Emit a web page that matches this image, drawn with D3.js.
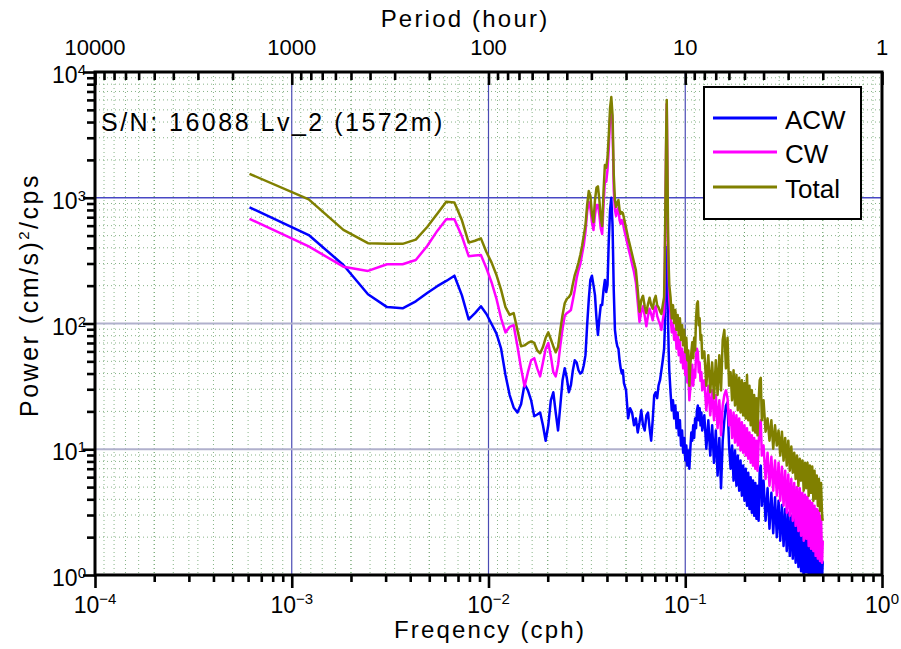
<!DOCTYPE html>
<html><head><meta charset="utf-8">
<script src="https://cdn.jsdelivr.net/npm/d3@7"></script>
<style>body{margin:0;background:#fff}text{font-family:"Liberation Sans",Arial,sans-serif;fill:#000}</style>
</head><body>
<svg id="c" width="901" height="649"></svg>
<script>
// ---------------- data ----------------
const freq = [
0.00061,0.00122,0.00183,0.00244,0.00305,0.00366,0.00427,0.00488,0.00549,0.0061,
0.00671,0.00732,0.00793,0.00854,0.00915,0.00976,0.01037,0.01098,0.01159,0.0122,
0.01281,0.01342,0.01403,0.01464,0.01525,0.01586,0.01647,0.01708,0.01769,0.0183,
0.01891,0.01952,0.02013,0.02074,0.02135,0.02196,0.02257,0.02318,0.02379,0.0244,
0.02501,0.02562,0.02623,0.02684,0.02745,0.02806,0.02867,0.02928,0.02989,0.0305,
0.03111,0.03172,0.03233,0.03294,0.03355,0.03416,0.03477,0.03538,0.03599,0.0366,
0.03721,0.03782,0.03843,0.03904,0.03965,0.04026,0.04087,0.04148,0.04209,0.0427,
0.04331,0.04392,0.04453,0.04514,0.04575,0.04636,0.04697,0.04758,0.04819,0.0488,
0.05002,0.05124,0.05246,0.05368,0.0549,0.05612,0.05734,0.05856,0.05978,0.061,
0.06222,0.06344,0.06466,0.06588,0.0671,0.06832,0.06954,0.07076,0.07198,0.0732,
0.07442,0.07564,0.07686,0.07808,
0.07869,0.0793,0.07991,0.08052,0.08113,0.08174,0.08235,0.08296,
0.08418,0.0854,0.08662,0.08784,0.08906,0.09028,0.0915,0.09272,0.09394,0.09516,
0.09638,0.0976,0.09882,0.10004,0.10126,0.10248,0.1037,0.10492,0.10614,0.10736,
0.10858,0.1098,0.11102,0.11224,0.11346,0.11468,0.1159,0.11712,0.11834,0.11956,
0.12078,0.122,
0.125,0.128,0.131,0.134,0.137,0.14,0.143,0.146,0.149,0.152,
0.155,0.158,0.161,0.164,0.167,0.17,0.173,0.176,0.179,0.182,
0.185,0.188,0.191,0.194,0.197,0.2,0.203,0.206,0.209,0.212,
0.215,0.218,0.221,0.224,0.227,0.23,0.233,0.236,0.239,0.242,0.245,
0.25,0.256,0.262,0.268,0.274,0.28,0.286,0.292,0.298,0.304,
0.31,0.316,0.322,0.328,0.334,0.34,0.346,0.352,0.358,0.364,
0.37,0.376,0.382,0.388,0.394,0.4,0.406,0.412,0.418,0.424,
0.43,0.436,0.442,0.448,0.454,0.46,0.466,0.472,0.478,0.484,
0.49,0.496,0.5
];
const acw = [
840,505,292,171,135,132,150,175,198,218,
240,168,108,121,137,119,99,83,63,39,
27,21.5,19.6,22.8,33,29.4,24.5,18.3,18.9,19.6,
15.5,11.7,15.5,24.5,28.4,19.6,14.1,22.3,35.4,44,
36.8,28.4,32.3,42.5,51,49,42.5,40,41,46.6,
56,97,154,222,240,202,168,110,81,110,
140,140,185,222,178,202,461,800,1000,607,
185,89,74,66,63,51,44,40,42.5,33.5,
29.4,17.6,21.2,19.6,15.5,17.6,13.6,16.4,20.4,15.5,
14.1,18.6,19.6,14.7,11.7,17,26.9,28.4,25.5,32.3,
35.4,42.5,51,63,
89,185,305,405,243,106,61,42.5,
28.4,20.4,24.5,17.6,22.3,14.7,19.6,12.9,17,10.7,
14.1,9.4,12.3,8.13,10.7,7.41,9.77,7.0,10.1,13.6,
11.7,15.5,12.3,17.6,14.7,20.4,22.3,17,21.2,15.5,
19.6,14.1,
18.6,10.1,17,8.9,15.5,7.8,14.1,6.17,12.3,4.9,
11.7,17,22.3,23.6,10.7,7.0,10.7,5.63,9.77,5.13,
8.9,4.68,8.13,4.27,7.41,3.9,7.0,3.55,6.5,3.35,
6.0,3.13,5.63,2.96,5.4,2.8,5.13,2.7,6.76,7.41,3.55,
5.63,2.7,4.9,2.33,4.5,2.15,4.15,2.0,3.9,1.87,
3.6,1.7,3.35,1.55,3.13,1.42,2.96,1.35,2.8,1.25,
2.7,1.16,2.6,1.07,2.46,0.83,2.33,1.05,2.24,0.95,
2.15,1.0,2.05,0.83,2.0,0.91,1.94,0.76,1.87,0.83,
1.8,0.95,1.29
];
const cw = [
680,410,283,262,296,296,320,413,545,675,
675,495,343,347,350,275,212,157,110,85,
94,97,66,44,31.5,41,51,53,44,38,
49,63,70,55,41,38,47,67,91,115,
121,124,128,154,185,230,266,297,355,421,
535,770,925,830,640,554,730,875,875,730,
570,515,875,1340,1340,1670,2490,4300,5360,3800,
1160,800,715,800,830,665,620,665,640,570,
480,405,350,297,257,212,148,103,124,137,
115,95,115,131,119,106,128,137,115,106,
99,89,106,124,
243,800,2400,5570,1670,421,230,154,
117,85,101,74,91,63,81,56,74,49,
63,44,59,39,51,34,41,24.5,30.5,39,
47,32,42.5,37,56,63,59,41,49,35,
41,29.4,
35.4,20.4,32,18.6,29.4,17,27,14.7,24.5,12.9,
22.3,27,29.4,25.5,15.5,20.4,12.3,19.6,11.3,18.6,
10.7,17.6,9.77,16.4,9.4,15.5,8.9,14.7,8.4,13.6,
7.8,12.9,7.41,12.3,7.0,11.7,6.76,11.3,15.5,17,8.9,
10.7,5.8,9.4,5.13,8.7,4.68,8.13,4.27,7.8,3.9,
7.25,3.55,6.76,3.13,6.3,2.96,5.8,2.7,5.4,2.46,
5.0,2.24,4.9,2.05,4.5,1.87,4.35,1.94,4.2,1.7,
3.9,1.62,3.75,1.55,3.55,1.42,3.35,1.35,3.24,1.29,
2.96,1.25,1.87
];
const total = [
1550,970,555,435,430,430,465,585,745,930,
915,665,440,455,475,370,305,243,185,135,
117,121,89,66,67,70,72,70,61,58,
65,77,85,75,66,59,65,89,117,145,
157,162,172,206,243,271,305,350,413,500,
607,875,1130,1040,745,640,960,1200,1230,960,
690,595,1120,1820,1730,2080,3150,5180,6320,4550,
1520,960,845,905,960,800,745,770,755,690,
575,480,413,355,305,266,185,124,154,166,
137,121,143,160,140,131,154,166,140,134,
125,119,140,162,
320,960,2880,5990,2000,554,292,202,
162,110,140,101,128,89,117,81,110,74,
97,67,89,59,77,51,61,32,47,59,
71,53,77,61,110,143,150,97,110,74,
81,53,
60,32,56,28.4,49,25.5,51,27,56,29.4,
74,89,44,77,32,41,24.5,42.5,22.3,39,
20.4,37,19.6,35.4,18.6,33.6,17.6,39,17,32,
15.5,29.4,14.1,27,13.6,25.5,12.9,24.5,35.4,37,17,
24.5,13.8,17.6,11.7,17,10.1,15.5,10.7,14.1,8.9,
13.8,8.13,12.3,7.41,11.7,6.76,10.5,6.5,9.4,5.8,
8.9,5.13,8.4,5.63,8.13,4.68,7.8,4.9,7.8,4.27,
7.41,4.5,7.3,3.9,6.76,4.05,6.17,3.55,5.8,3.24,
5.4,2.96,2.7
];
const seriesNames = ["ACW","CW","Total"];
const seriesColors = ["#0000ff","#ff00ff","#808000"];
const freqMajorTicks = [1e-4,1e-3,1e-2,1e-1,1];
const freqExponents = ["−4","−3","−2","−1","0"];
const powerMajorTicks = [1,10,100,1000,10000];
const powerExponents = ["0","1","2","3","4"];
const periodMajorTicks = [10000,1000,100,10,1];
const periodLabels = ["10000","1000","100","10","1"];
const titleText = "S/N: 16088 Lv_2 (1572m)";

// ---------------- layout ----------------
const L=95,R=882,T=72,B=575;
const x=d3.scaleLog().domain([1e-4,1]).range([L,R]);
const y=d3.scaleLog().domain([1,1e4]).range([B,T]);
const svg=d3.select("#c");
svg.append("rect").attr("width",901).attr("height",649).attr("fill","#fff");

const minorFreq=[];[1e-4,1e-3,1e-2,1e-1].forEach(d=>{for(let m=2;m<=9;m++)minorFreq.push(m*d);});
const periodMinor=[];[1000,100,10,1].forEach(d=>{for(let m=2;m<=9;m++)periodMinor.push(m*d);});
const minorPower=[];[1,10,100,1000].forEach(d=>{for(let m=2;m<=9;m++)minorPower.push(m*d);});

// minor dotted grid
const grid=svg.append("g");
const vDots=minorFreq.concat(periodMinor.map(p=>1/p));
grid.selectAll(".vd").data(vDots).enter().append("line")
  .attr("x1",d=>x(d)).attr("x2",d=>x(d)).attr("y1",T).attr("y2",B)
  .attr("stroke","#5f9a5f").attr("stroke-width",1).attr("stroke-dasharray","1,3").attr("opacity",0.75);
grid.selectAll(".hd").data(minorPower).enter().append("line")
  .attr("y1",d=>y(d)).attr("y2",d=>y(d)).attr("x1",L).attr("x2",R)
  .attr("stroke","#5f9a5f").attr("stroke-width",1).attr("stroke-dasharray","1,3").attr("opacity",0.75);
// major grid
grid.selectAll(".vm").data(freqMajorTicks.slice(1,4)).enter().append("line")
  .attr("x1",d=>x(d)).attr("x2",d=>x(d)).attr("y1",T).attr("y2",B)
  .attr("stroke","#4a4ab4").attr("stroke-width",1.2);
grid.selectAll(".hm").data(powerMajorTicks.slice(1,4)).enter().append("line")
  .attr("y1",d=>y(d)).attr("y2",d=>y(d)).attr("x1",L).attr("x2",R)
  .attr("stroke",d=>d===1000?"#4848c4":"#b0b0cc").attr("stroke-width",d=>d===1000?1.5:2);

// curves
svg.append("clipPath").attr("id","clip").append("rect").attr("x",L).attr("y",T).attr("width",R-L).attr("height",B-T);
const line=d3.line().x(d=>x(d.f)).y(d=>y(d.p));
[acw,cw,total].forEach((arr,i)=>{
  const rows=freq.map((f,j)=>({f:f,p:arr[j]}));
  svg.append("path").datum(rows).attr("d",line).attr("clip-path","url(#clip)")
    .attr("fill","none").attr("stroke",seriesColors[i]).attr("stroke-width",2.5)
    .attr("stroke-linejoin","round");
});

// axes (ticks)
function styleAxis(sel){sel.select(".domain").remove();sel.selectAll(".tick line").attr("stroke","#000").attr("stroke-width",2.6);sel.selectAll(".tick text").remove();}
svg.append("g").attr("transform",`translate(0,${B})`).call(d3.axisBottom(x).tickValues(freqMajorTicks).tickSize(13).tickSizeOuter(0)).call(styleAxis);
svg.append("g").attr("transform",`translate(0,${B})`).call(d3.axisBottom(x).tickValues(minorFreq).tickSize(7).tickSizeOuter(0)).call(styleAxis);
svg.append("g").attr("transform",`translate(${L},0)`).call(d3.axisLeft(y).tickValues(powerMajorTicks).tickSize(12).tickSizeOuter(0)).call(styleAxis);
svg.append("g").attr("transform",`translate(${L},0)`).call(d3.axisLeft(y).tickValues(minorPower).tickSize(8).tickSizeOuter(0)).call(styleAxis);
svg.append("g").attr("transform",`translate(0,${T})`).call(d3.axisTop(x).tickValues(periodMajorTicks.map(p=>1/p)).tickSize(-13).tickSizeOuter(0)).call(styleAxis);
svg.append("g").attr("transform",`translate(0,${T})`).call(d3.axisTop(x).tickValues(periodMinor.map(p=>1/p)).tickSize(-8).tickSizeOuter(0)).call(styleAxis);

// frame
svg.append("rect").attr("x",L).attr("y",T).attr("width",R-L).attr("height",B-T)
  .attr("fill","none").attr("stroke","#000").attr("stroke-width",3);

// tick labels
freqMajorTicks.forEach((v,i)=>{
  const t=svg.append("text").attr("x",x(v)).attr("y",613).attr("text-anchor","middle").attr("font-size",23).text("10");
  t.append("tspan").attr("dy",-9).attr("font-size",15).text(freqExponents[i]);
});
powerMajorTicks.forEach((v,i)=>{
  const t=svg.append("text").attr("x",86).attr("y",y(v)+11).attr("text-anchor","end").attr("font-size",23).text("10");
  t.append("tspan").attr("dy",-8).attr("font-size",15).text(powerExponents[i]);
});
periodMajorTicks.forEach((p,i)=>{
  svg.append("text").attr("x",x(1/p)).attr("y",55).attr("text-anchor","middle").attr("font-size",22).text(periodLabels[i]);
});

// axis titles
svg.append("text").attr("x",465).attr("y",27).attr("text-anchor","middle").attr("font-size",24).attr("letter-spacing",2.2).text("Period (hour)");
svg.append("text").attr("x",490).attr("y",638).attr("text-anchor","middle").attr("font-size",24).attr("letter-spacing",2.2).text("Freqency (cph)");
const yl=svg.append("text").attr("transform","translate(38,295) rotate(-90)").attr("text-anchor","middle").attr("font-size",25).attr("letter-spacing",2.5).text("Power (cm/s)");
yl.append("tspan").attr("dy",-9).attr("font-size",15).text("2");
yl.append("tspan").attr("dy",9).text("/cps");
svg.append("text").attr("x",101).attr("y",131).attr("font-size",25).attr("letter-spacing",2.5).text(titleText);

// legend
const lg=svg.append("g");
lg.append("rect").attr("x",704).attr("y",87).attr("width",157).attr("height",132).attr("fill","#fff").attr("stroke","#000").attr("stroke-width",2);
const legY=[118,152,187];
seriesNames.forEach((n,i)=>{
  lg.append("line").attr("x1",713).attr("x2",777).attr("y1",legY[i]).attr("y2",legY[i]).attr("stroke",seriesColors[i]).attr("stroke-width",3);
  lg.append("text").attr("x",785).attr("y",legY[i]+11).attr("font-size",26).text(n);
});
</script>
</body></html>
